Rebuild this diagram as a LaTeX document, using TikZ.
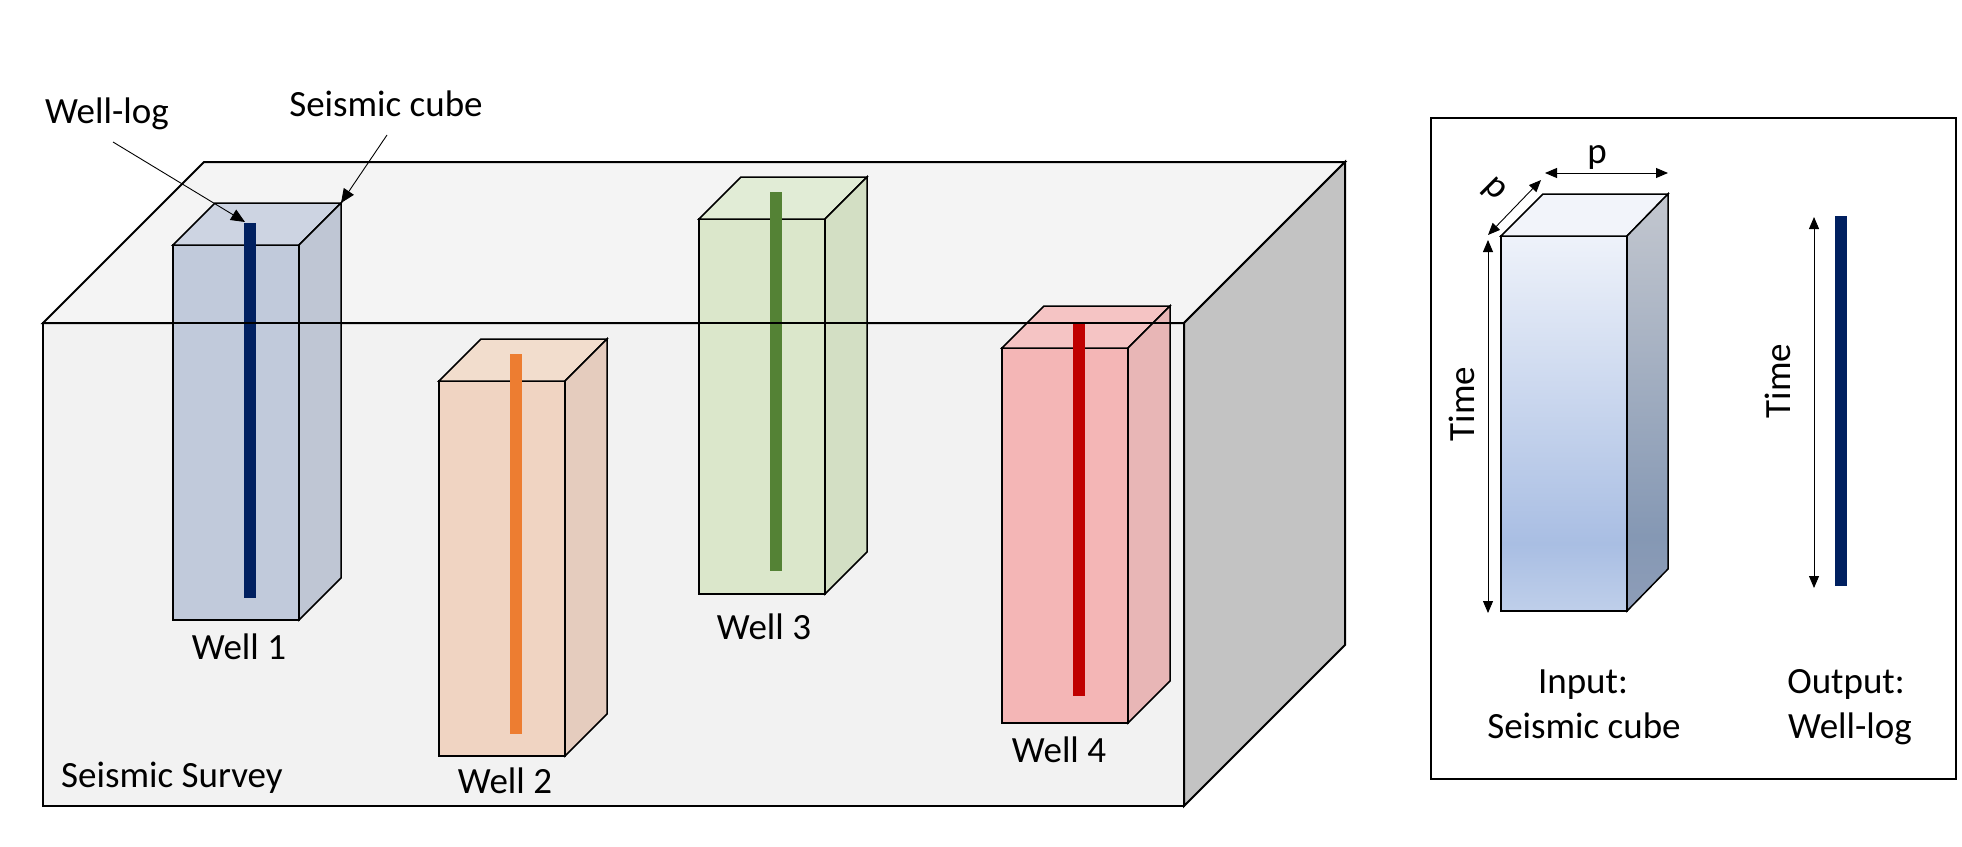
\documentclass[tikz,border=0pt]{standalone}
\usepackage{fontspec}
\setmainfont{Carlito}
\usetikzlibrary{arrows.meta}

% survey block
\definecolor{surveyfront}{HTML}{F2F2F2}
\definecolor{surveytop}{HTML}{F4F4F4}
\definecolor{surveyside}{HTML}{C3C3C3}
% well prisms and logs
\definecolor{wAfront}{HTML}{C1CADB}\definecolor{wAtop}{HTML}{CDD4E2}\definecolor{wAside}{HTML}{BFC6D4}\definecolor{wAlog}{HTML}{002060}
\definecolor{wBfront}{HTML}{F0D4C2}\definecolor{wBtop}{HTML}{F2DDCD}\definecolor{wBside}{HTML}{E5CCBE}\definecolor{wBlog}{HTML}{ED7D31}
\definecolor{wCfront}{HTML}{DBE7CB}\definecolor{wCtop}{HTML}{E1ECD6}\definecolor{wCside}{HTML}{D3DFC4}\definecolor{wClog}{HTML}{548235}
\definecolor{wDfront}{HTML}{F4B6B6}\definecolor{wDtop}{HTML}{F5C4C4}\definecolor{wDside}{HTML}{E8B6B6}\definecolor{wDlog}{HTML}{C00000}
% input cube
\definecolor{cftop}{HTML}{EEF2FA}\definecolor{cfmid}{HTML}{A9BEE3}\definecolor{cfbot}{HTML}{BFCFEA}
\definecolor{cstop}{HTML}{C3C7CF}\definecolor{csmid}{HTML}{8598B4}\definecolor{csbot}{HTML}{8E9DB8}
\definecolor{cubetop}{HTML}{F2F4FA}

\pgfdeclareverticalshading{cubefront}{100bp}{color(0bp)=(cfbot); color(25bp)=(cfbot); color(34bp)=(cfmid); color(75bp)=(cftop); color(100bp)=(cftop)}
\pgfdeclareverticalshading{cubeside}{100bp}{color(0bp)=(csbot); color(25bp)=(csbot); color(34bp)=(csmid); color(75bp)=(cstop); color(100bp)=(cstop)}

% prism: #1 left x, #2 top y of the front face, #3 front, #4 top, #5 side colour
\newcommand{\wellprism}[5]{%
  \filldraw[edge, fill=#3] (#1,#2) rectangle ++(126,375);
  \filldraw[edge, fill=#4] (#1,#2) -- ++(42,-42) -- ++(126,0) -- ++(-42,42) -- cycle;
  \filldraw[edge, fill=#5] ({#1+126},#2) -- ++(42,-42) -- ++(0,375) -- ++(-42,42) -- cycle;
}

\begin{document}
\begin{tikzpicture}[x=1pt, y=-1pt,
  edge/.style={draw=black, line width=1.5pt, line join=miter},
  txt/.style={font=\fontsize{37}{44}\selectfont, inner sep=0pt},
  dimarrow/.style={{Triangle[length=12pt,width=10pt]}-{Triangle[length=12pt,width=10pt]}, line width=0.9pt},
  callout/.style={-{Triangle[length=14pt,width=12pt]}, line width=0.9pt}]
\useasboundingbox (0,0) rectangle (1962,846);

% survey block
\filldraw[edge, line width=2pt, fill=surveyfront] (43,323) rectangle (1184,806);
\filldraw[edge, line width=2pt, fill=surveytop] (43,323) -- (204,162) -- (1345,162) -- (1184,323) -- cycle;
\filldraw[edge, line width=2pt, fill=surveyside] (1184,323) -- (1345,162) -- (1345,645) -- (1184,806) -- cycle;

% wells
\wellprism{173}{245}{wAfront}{wAtop}{wAside}
\wellprism{439}{381}{wBfront}{wBtop}{wBside}
\wellprism{699}{219}{wCfront}{wCtop}{wCside}
\wellprism{1002}{348}{wDfront}{wDtop}{wDside}

\fill[wAlog] (244,223) rectangle (256,598);
\fill[wBlog] (510,354) rectangle (522,734);
\fill[wClog] (770,192) rectangle (782,571);
\fill[wDlog] (1073,322) rectangle (1085,696);

% front top edge of the survey seen through the wells
\draw[line width=2pt] (43,323) -- (1184,323);

% labels inside the survey
\node[txt, anchor=base] (w1) at (239,659) {Well 1};
\node[txt, anchor=base] (w2) at (505,793) {Well 2};
\node[txt, anchor=base] (w3) at (764,639) {Well 3};
\node[txt, anchor=base] (w4) at (1059,762) {Well 4};
\node[txt, anchor=base west] (survey) at (61,787) {Seismic Survey};

% callouts
\node[txt, anchor=base] (lablog) at (107,123) {Well-log};
\node[txt, anchor=base] (labcube) at (386,116) {Seismic cube};
\coordinate (logstart) at (113,142);
\coordinate (logtip) at (245,222);
\coordinate (cubestart) at (387,135);
\coordinate (cubetip) at (341,203);
\draw[callout] (logstart) -- (logtip);
\draw[callout] (cubestart) -- (cubetip);

% input / output panel
\draw[line width=1.5pt] (1431,118) rectangle (1956,779);

\shadedraw[edge, shading=cubefront] (1501,236) rectangle (1627,611);
\filldraw[edge, fill=cubetop] (1501,236) -- (1543,194) -- (1668,194) -- (1627,236) -- cycle;
\shadedraw[edge, shading=cubeside] (1627,236) -- (1668,194) -- (1668,569) -- (1627,611) -- cycle;

\coordinate (pw1) at (1545,173);
\coordinate (pw2) at (1668,173);
\coordinate (pd1) at (1488,235);
\coordinate (pd2) at (1541,180);
\coordinate (tl1) at (1488,240);
\coordinate (tl2) at (1488,613);
\coordinate (tr1) at (1814,217);
\coordinate (tr2) at (1814,588);
\draw[dimarrow] (pw1) -- (pw2);
\draw[dimarrow] (pd1) -- (pd2);
\draw[dimarrow] (tl1) -- (tl2);
\draw[dimarrow] (tr1) -- (tr2);

\node[txt, anchor=base] (pwidth) at (1597,163) {p};
\node[txt, rotate=-45] (pdepth) at (1494,190) {p};
\node[txt, rotate=90] (timel) at (1462,404) {Time};
\node[txt, rotate=90] (timer) at (1778,381) {Time};

\fill[wAlog] (1835,216) rectangle (1847,586);

\node[txt, anchor=base] (in1) at (1583,693) {Input:};
\node[txt, anchor=base] (in2) at (1584,738) {Seismic cube};
\node[txt, anchor=base] (out1) at (1846,693) {Output:};
\node[txt, anchor=base] (out2) at (1850,738) {Well-log};
\end{tikzpicture}
\end{document}
